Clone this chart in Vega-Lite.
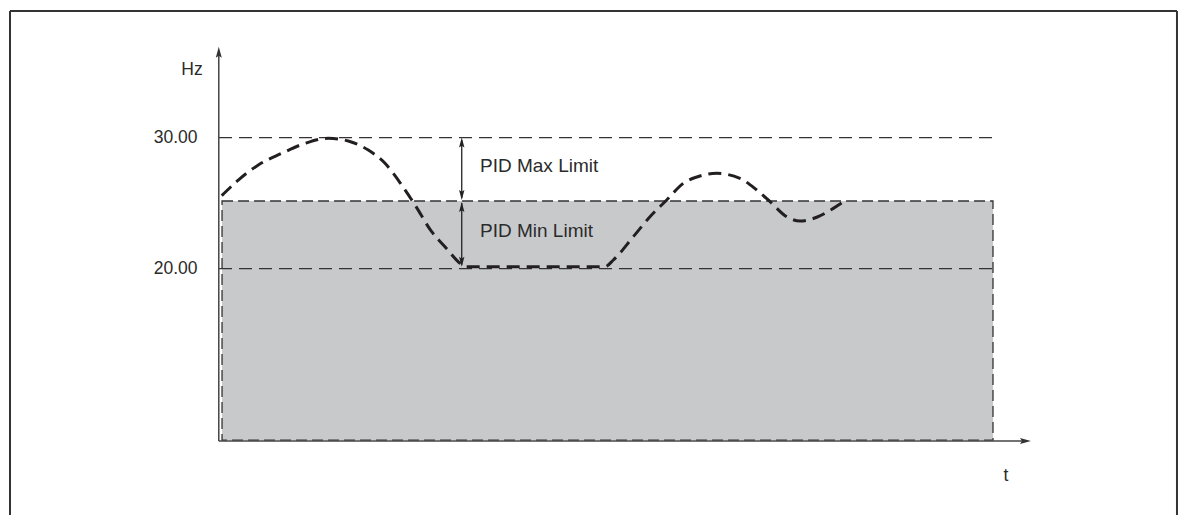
{
  "$schema": "https://vega.github.io/schema/vega-lite/v6.json",
  "width": 1180,
  "height": 515,
  "autosize": {"type": "none"},
  "padding": 0,
  "background": "white",
  "config": {"view": {"stroke": null}},
  "encoding": {
    "x": {"field": "t", "type": "quantitative", "axis": null, "scale": {"domain": [-28.13, 124.13], "nice": false, "zero": false}},
    "y": {"field": "hz", "type": "quantitative", "scale": {"domain": [1.2, 40.5], "nice": false, "zero": false},
      "axis": {"values": [20, 30], "format": ".2f", "domain": false, "ticks": false, "grid": false, "title": null, "labelFontSize": 17.5, "labelFont": "Liberation Sans", "labelColor": "#2b2b2b", "offset": -197, "labelPadding": 0}}
  },
  "layer": [
    {
      "data": {"values": [
        {"t": -26.84, "hz": 39.66, "t2": 123.74, "hz2": 39.66},
        {"t": -26.84, "hz": 39.66, "t2": -26.84, "hz2": 1.2},
        {"t": 123.74, "hz": 39.66, "t2": 123.74, "hz2": 1.2}
      ]},
      "mark": {"type": "rule", "color": "#333333", "strokeWidth": 2},
      "encoding": {"x2": {"field": "t2"}, "y2": {"field": "hz2"}}
    },
    {
      "data": {"values": [{"t": 0.52, "hz": 25.16, "t2": 100, "hz2": 6.92}]},
      "mark": {"type": "rect", "fill": "#c8c9cb", "stroke": "#333333", "strokeWidth": 1.3, "strokeDash": [11, 5]},
      "encoding": {"x2": {"field": "t2"}, "y2": {"field": "hz2"}}
    },
    {
      "data": {"values": [
        {"t": 0.13, "hz": 30, "t2": 100, "hz2": 30},
        {"t": 0.13, "hz": 20, "t2": 100, "hz2": 20}
      ]},
      "mark": {"type": "rule", "color": "#333333", "strokeWidth": 1.3, "strokeDash": [13, 7]},
      "encoding": {"x2": {"field": "t2"}, "y2": {"field": "hz2"}}
    },
    {
      "data": {"values": [
        {"t": 0.1, "hz": 6.85, "t2": 0.1, "hz2": 36.6},
        {"t": 0.1, "hz": 6.85, "t2": 104.3, "hz2": 6.85}
      ]},
      "mark": {"type": "rule", "color": "#444444", "strokeWidth": 1.5},
      "encoding": {"x2": {"field": "t2"}, "y2": {"field": "hz2"}}
    },
    {
      "data": {"values": [
        {"t": 0.48, "hz": 25.57},
        {"t": 2.62, "hz": 26.76},
        {"t": 5.20, "hz": 27.91},
        {"t": 8.22, "hz": 28.80},
        {"t": 11.23, "hz": 29.56},
        {"t": 14.23, "hz": 29.95},
        {"t": 16.81, "hz": 29.74},
        {"t": 19.39, "hz": 29.05},
        {"t": 21.55, "hz": 28.04},
        {"t": 23.70, "hz": 26.38},
        {"t": 25.42, "hz": 24.86},
        {"t": 27.57, "hz": 22.82},
        {"t": 29.40, "hz": 21.60},
        {"t": 31.23, "hz": 20.41},
        {"t": 31.87, "hz": 20.15},
        {"t": 49.94, "hz": 20.15},
        {"t": 51.01, "hz": 20.66},
        {"t": 53.59, "hz": 22.44},
        {"t": 55.74, "hz": 23.96},
        {"t": 57.90, "hz": 25.24},
        {"t": 60.04, "hz": 26.51},
        {"t": 62.19, "hz": 27.07},
        {"t": 64.35, "hz": 27.27},
        {"t": 67.35, "hz": 26.89},
        {"t": 69.51, "hz": 26.00},
        {"t": 71.23, "hz": 25.11},
        {"t": 73.38, "hz": 23.96},
        {"t": 75.10, "hz": 23.63},
        {"t": 77.25, "hz": 23.92},
        {"t": 79.39, "hz": 24.60},
        {"t": 80.90, "hz": 25.18}
      ]},
      "mark": {"type": "line", "color": "#231f20", "strokeWidth": 3, "strokeDash": [13, 7], "interpolate": "monotone"},
      "encoding": {"order": {"field": "t", "type": "quantitative"}}
    },
    {
      "data": {"values": [
        {"t": 31.45, "hz": 29.8, "t2": 31.45, "hz2": 25.4},
        {"t": 31.45, "hz": 25.0, "t2": 31.45, "hz2": 20.3}
      ]},
      "mark": {"type": "rule", "color": "#222222", "strokeWidth": 1.3},
      "encoding": {"x2": {"field": "t2"}, "y2": {"field": "hz2"}}
    },
    {
      "data": {"values": [{"t": 0.1, "hz": 36.93}]},
      "mark": {"type": "point", "filled": true, "opacity": 1, "color": "#333333", "size": 100, "shape": "M0,0L0.6,2.2L0,1.8L-0.6,2.2Z", "angle": 0}
    },
    {
      "data": {"values": [{"t": 104.9, "hz": 6.85}]},
      "mark": {"type": "point", "filled": true, "opacity": 1, "color": "#333333", "size": 100, "shape": "M0,0L0.6,2.2L0,1.8L-0.6,2.2Z", "angle": 90}
    },
    {
      "data": {"values": [{"t": 31.45, "hz": 30.0}, {"t": 31.45, "hz": 25.08}]},
      "mark": {"type": "point", "filled": true, "opacity": 1, "color": "#222222", "size": 81, "shape": "M0,0L0.6,2.2L0,1.8L-0.6,2.2Z", "angle": 0}
    },
    {
      "data": {"values": [{"t": 31.45, "hz": 25.24}, {"t": 31.45, "hz": 20.15}]},
      "mark": {"type": "point", "filled": true, "opacity": 1, "color": "#222222", "size": 81, "shape": "M0,0L0.6,2.2L0,1.8L-0.6,2.2Z", "angle": 180}
    },
    {
      "data": {"values": [
        {"t": -3.35, "hz": 34.78, "label": "Hz"},
        {"t": 101.68, "hz": 3.79, "label": "t"}
      ]},
      "mark": {"type": "text", "align": "center", "baseline": "alphabetic", "font": "Liberation Sans", "fontSize": 17.5, "color": "#2b2b2b"},
      "encoding": {"text": {"field": "label"}}
    },
    {
      "data": {"values": [
        {"t": 33.81, "hz": 27.37, "label": "PID Max Limit"},
        {"t": 33.81, "hz": 22.41, "label": "PID Min Limit"}
      ]},
      "mark": {"type": "text", "align": "left", "baseline": "alphabetic", "font": "Liberation Sans", "fontSize": 19, "color": "#2b2b2b"},
      "encoding": {"text": {"field": "label"}}
    }
  ]
}
